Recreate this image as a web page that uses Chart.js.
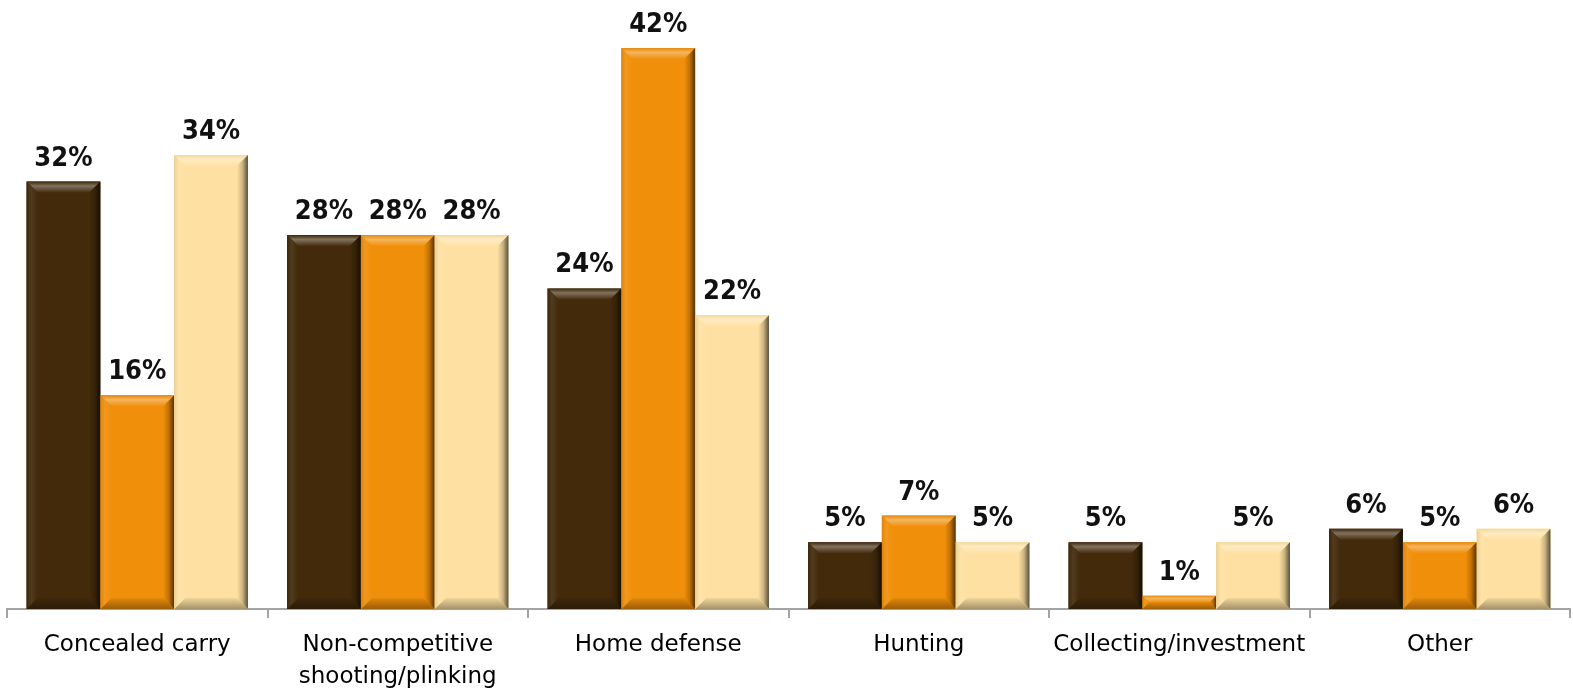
<!DOCTYPE html>
<html>
<head>
<meta charset="utf-8">
<script src="https://cdn.jsdelivr.net/npm/chart.js@4.4.1/dist/chart.umd.min.js"></script>
<style>
  html, body { margin: 0; padding: 0; background: #ffffff; }
  #wrap { width: 1573px; height: 688px; }
</style>
</head>
<body>
<div id="wrap"><canvas id="chart" width="1573" height="688"></canvas></div>
<script>
// Reasons for gun ownership, three respondent groups (percent)
const categories = [
  'Concealed carry',
  ['Non-competitive', 'shooting/plinking'],
  'Home defense',
  'Hunting',
  'Collecting/investment',
  'Other'
];
const seriesA = [32, 28, 24, 5, 5, 6];
const seriesB = [16, 28, 42, 7, 1, 5];
const seriesC = [34, 28, 22, 5, 5, 6];

const colorA = '#422a0b';
const colorB = '#f08f0a';
const colorC = '#fee1a2';

function shade(hex, amt) {
  // amt > 0 lightens toward white, amt < 0 darkens toward black
  const n = parseInt(hex.slice(1), 16);
  let r = (n >> 16) & 255, g = (n >> 8) & 255, b = n & 255;
  const t = amt < 0 ? 0 : 255, p = Math.abs(amt);
  r = Math.round(r + (t - r) * p);
  g = Math.round(g + (t - g) * p);
  b = Math.round(b + (t - b) * p);
  return `rgb(${r},${g},${b})`;
}

// Bevelled edges drawn over each bar element
const bevelPlugin = {
  id: 'bevel',
  afterDatasetsDraw(chart) {
    const ctx = chart.ctx;
    chart.data.datasets.forEach((ds, di) => {
      const meta = chart.getDatasetMeta(di);
      meta.data.forEach((bar) => {
        const p = bar.getProps(['x', 'y', 'base', 'width'], true);
        const l = p.x - p.width / 2, r = p.x + p.width / 2;
        const t = Math.min(p.y, p.base), btm = Math.max(p.y, p.base);
        const h = btm - t;
        const bv = Math.min(11, h / 2);
        const c = ds.backgroundColor;
        ctx.save();
        // top face
        ctx.beginPath();
        ctx.moveTo(l, t); ctx.lineTo(r, t); ctx.lineTo(r - bv, t + bv); ctx.lineTo(l + bv, t + bv); ctx.closePath();
        const gt = ctx.createLinearGradient(0, t, 0, t + bv);
        gt.addColorStop(0, shade(c, -0.04));
        gt.addColorStop(0.4, shade(c, 0.34));
        gt.addColorStop(1, shade(c, 0.02));
        ctx.fillStyle = gt; ctx.fill();
        // bottom face
        ctx.beginPath();
        ctx.moveTo(l, btm); ctx.lineTo(r, btm); ctx.lineTo(r - bv, btm - bv); ctx.lineTo(l + bv, btm - bv); ctx.closePath();
        const gb = ctx.createLinearGradient(0, btm, 0, btm - bv);
        gb.addColorStop(0, shade(c, -0.35));
        gb.addColorStop(1, shade(c, -0.05));
        ctx.fillStyle = gb; ctx.fill();
        // left face
        ctx.beginPath();
        ctx.moveTo(l, t); ctx.lineTo(l + bv, t + bv); ctx.lineTo(l + bv, btm - bv); ctx.lineTo(l, btm); ctx.closePath();
        const gl = ctx.createLinearGradient(l, 0, l + bv, 0);
        gl.addColorStop(0, shade(c, -0.08));
        gl.addColorStop(0.4, shade(c, 0.08));
        gl.addColorStop(1, c);
        ctx.fillStyle = gl; ctx.fill();
        // right face
        ctx.beginPath();
        ctx.moveTo(r, t); ctx.lineTo(r - bv, t + bv); ctx.lineTo(r - bv, btm - bv); ctx.lineTo(r, btm); ctx.closePath();
        const gr = ctx.createLinearGradient(r - bv, 0, r, 0);
        gr.addColorStop(0, c);
        gr.addColorStop(0.5, shade(c, -0.2));
        gr.addColorStop(1, shade(c, -0.65));
        ctx.fillStyle = gr; ctx.fill();
        ctx.restore();
      });
    });
  }
};

// Percentage labels above each bar
const valueLabels = {
  id: 'valueLabels',
  afterDatasetsDraw(chart) {
    const ctx = chart.ctx;
    ctx.save();
    ctx.font = 'bold 27px "Liberation Sans Narrow", "DejaVu Sans Condensed", sans-serif';
    ctx.fillStyle = '#111111';
    ctx.textAlign = 'center';
    ctx.textBaseline = 'alphabetic';
    chart.data.datasets.forEach((ds, di) => {
      const meta = chart.getDatasetMeta(di);
      meta.data.forEach((bar, i) => {
        ctx.fillText(ds.data[i] + '%', bar.x, bar.y - 16);
      });
    });
    ctx.restore();
  }
};

new Chart(document.getElementById('chart'), {
  type: 'bar',
  data: {
    labels: categories,
    datasets: [
      { label: 'A', data: seriesA, backgroundColor: colorA },
      { label: 'B', data: seriesB, backgroundColor: colorB },
      { label: 'C', data: seriesC, backgroundColor: colorC }
    ]
  },
  options: {
    responsive: false,
    animation: false,
    layout: { padding: { top: 8, left: 7, right: 3, bottom: 0 } },
    plugins: { legend: { display: false }, tooltip: { enabled: false } },
    datasets: { bar: { categoryPercentage: 0.85, barPercentage: 1.0 } },
    scales: {
      x: {
        grid: {
          offset: true,
          drawOnChartArea: false,
          drawTicks: true,
          tickLength: 9,
          color: '#a3a3a3',
          lineWidth: 2
        },
        border: { display: true, color: '#a3a3a3', width: 2 },
        ticks: {
          color: '#000000',
          font: { family: '"DejaVu Sans"', size: 23, lineHeight: 1.35 },
          padding: 12,
          maxRotation: 0,
          autoSkip: false
        },
        afterFit(scale) { scale.height = 79; }
      },
      y: {
        display: false,
        min: 0,
        max: 45
      }
    }
  },
  plugins: [bevelPlugin, valueLabels]
});
</script>
</body>
</html>
